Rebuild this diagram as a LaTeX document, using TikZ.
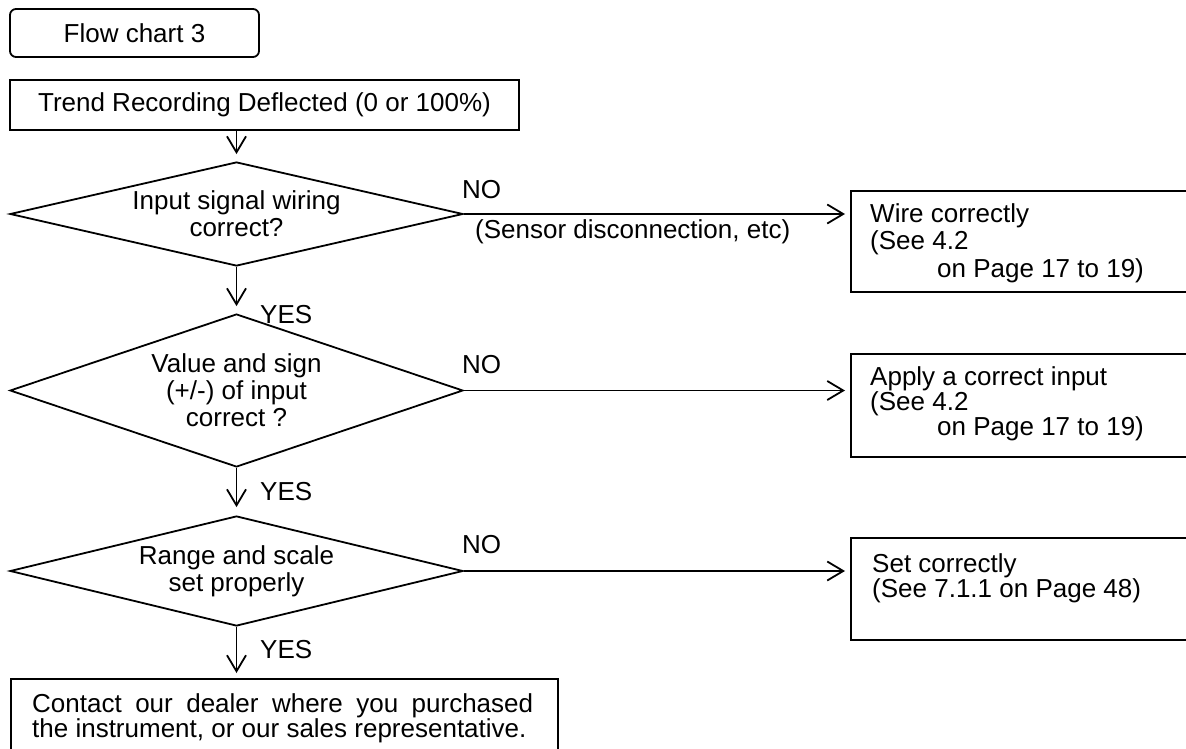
\documentclass[tikz,border=0pt]{standalone}
\usepackage{fontspec}
\setmainfont{Liberation Sans}
\usetikzlibrary{shapes.geometric,arrows.meta}
\begin{document}
\begin{tikzpicture}[x=1pt,y=-1pt,
  every node/.style={font=\fontsize{26}{27}\selectfont},
  box/.style={draw, line width=1.8pt, rectangle, inner sep=0pt},
  dec/.style={draw, line width=1.8pt, diamond, inner sep=0pt, align=center},
  txt/.style={inner sep=0pt, align=left, anchor=north west},
  lbl/.style={inner sep=0pt, anchor=west},
  flow/.style={draw, line width=1.8pt, -{Straight Barb[length=16pt,width=19pt]}},
]
\useasboundingbox (0,0) rectangle (1186,749);

\node[box, rounded corners=6pt, minimum width=249pt, minimum height=48pt] (title) at (134.5,33) {Flow chart 3};
\node[box, minimum width=509pt, minimum height=50pt] (trend) at (264.5,105) {Trend Recording Deflected (0 or 100\%)};

\node[dec, minimum width=453pt, minimum height=104pt, aspect=4.35] (d1) at (236.5,214) {Input signal wiring\\correct?};
\node[dec, minimum width=453pt, minimum height=153pt, aspect=2.96] (d2) at (236.5,390.5) {Value and sign\\(+/-) of input\\correct ?};
\node[dec, minimum width=453pt, minimum height=110pt, aspect=4.1] (d3) at (236.5,571) {Range and scale\\set properly};

\node[box, anchor=north west, minimum width=340pt, minimum height=101pt] (wire) at (850,190) {};
\node[txt, font=\fontsize{26}{27.5}\selectfont] (wiret) at (870,203) {Wire correctly\\(See 4.2\\\hspace*{67pt}on Page 17 to 19)};

\node[box, anchor=north west, minimum width=340pt, minimum height=103pt] (apply) at (850,353) {};
\node[txt, font=\fontsize{26}{25}\selectfont] (applyt) at (870,366) {Apply a correct input\\(See 4.2\\\hspace*{67pt}on Page 17 to 19)};

\node[box, anchor=north west, minimum width=340pt, minimum height=102pt] (set) at (850,537) {};
\node[txt, font=\fontsize{26}{25}\selectfont] (sett) at (872,553) {Set correctly\\(See 7.1.1 on Page 48)};

\node[box, anchor=north west, minimum width=547pt, minimum height=80pt] (contact) at (10,678) {};
\node[txt, font=\fontsize{26}{25}\selectfont] (contactt) at (32,693) {\makebox[501pt][s]{Contact our dealer where you purchased}\\the instrument, or our sales representative.};

\draw[flow, shorten >=7pt] (trend.south -| d1.north) -- (d1.north);
\draw[flow, shorten >=7pt] (d1.south) -- (d2.north);
\draw[flow, shorten >=8pt] (d2.south) -- (d3.north);
\draw[flow, shorten >=5pt] (d3.south) -- (d3.south |- contact.north);
\draw[flow, shorten >=5pt] (d1.east) -- (d1.east -| wire.west);
\draw[flow, shorten >=5pt] (d2.east) -- (d2.east -| apply.west);
\draw[flow, shorten >=5pt] (d3.east) -- (d3.east -| set.west);

\node[lbl] (no1) at (462,190) {NO};
\node[lbl] (sens) at (475,232) {(Sensor disconnection, etc)};
\node[lbl] (no2) at (462,365) {NO};
\node[lbl] (no3) at (462,545) {NO};
\node[lbl] (yes1) at (260,315) {YES};
\node[lbl] (yes2) at (260,492) {YES};
\node[lbl] (yes3) at (260,650) {YES};
\end{tikzpicture}
\end{document}
